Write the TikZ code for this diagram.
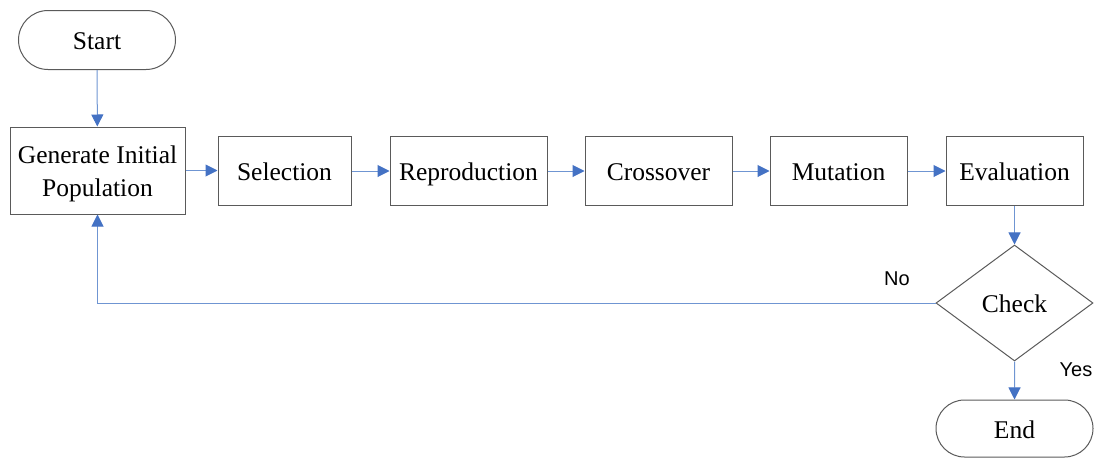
\documentclass[tikz,border=0pt]{standalone}
\usepackage{fontspec}
\setmainfont{Liberation Serif}
\newfontfamily\labelfont{Liberation Sans}
\usetikzlibrary{shapes.geometric,shapes.misc,arrows.meta}
\definecolor{linec}{HTML}{6F95D2}
\definecolor{tipc}{HTML}{4472C4}
\definecolor{boxc}{HTML}{5A5A5A}
\tikzset{
  procbox/.style={draw=boxc, line width=1pt, rectangle, inner sep=0pt, align=center,
    font=\fontsize{25.5}{32.5}\selectfont},
  onebox/.style={procbox, text height=24pt, text depth=5pt},
  termbox/.style={draw=boxc, line width=1pt, rounded rectangle, inner sep=0pt,
    text height=24pt, text depth=5pt, font=\fontsize{25.5}{31}\selectfont},
  decbox/.style={draw=boxc, line width=1pt, diamond, inner sep=0pt,
    text height=24pt, text depth=5pt, font=\fontsize{25.5}{31}\selectfont},
  flow/.style={draw=linec, line width=1pt, -{Triangle[length=12pt,width=12pt,color=tipc]}},
  lbl/.style={font=\labelfont\fontsize{20}{24}\selectfont, inner sep=0pt}
}
\begin{document}
\begin{tikzpicture}[x=1pt,y=-1pt]
\useasboundingbox (0,0) rectangle (1095,458);
\node[termbox, minimum width=157pt, minimum height=59pt] (start) at (97,40) {Start};
\node[procbox, minimum width=175pt, minimum height=87pt] (gen) at (97.5,170.5) {};
\node[procbox, draw=none] (gentext) at (97.5,174) {Generate Initial\\Population};
\node[onebox, minimum width=133pt, minimum height=69pt] (sel) at (284.5,170.5) {Selection};
\node[onebox, minimum width=157pt, minimum height=69pt] (rep) at (468.5,171) {Reproduction};
\node[onebox, minimum width=147pt, minimum height=69pt] (cro) at (658.5,171) {Crossover};
\node[onebox, minimum width=137pt, minimum height=69pt] (mut) at (838.5,171) {Mutation};
\node[onebox, minimum width=137pt, minimum height=69pt] (eva) at (1014.5,171) {Evaluation};
\node[decbox, minimum width=157pt, minimum height=116pt, aspect=1.35] (chk) at (1014.5,303) {Check};
\node[termbox, minimum width=157pt, minimum height=57pt] (end) at (1014.5,428.5) {End};
\node[lbl] (no) at (897,279) {No};
\node[lbl] (yes) at (1076,370) {Yes};
\draw[flow] (start) -- (gen);
\draw[flow] (gen.east |- sel) -- (sel);
\draw[flow] (sel.east |- rep) -- (rep);
\draw[flow] (rep) -- (cro);
\draw[flow] (cro) -- (mut);
\draw[flow] (mut) -- (eva);
\draw[flow] (eva) -- (chk);
\draw[flow] (chk) -- (end);
\draw[flow] (chk.west) -| (gen.south);
\end{tikzpicture}
\end{document}
